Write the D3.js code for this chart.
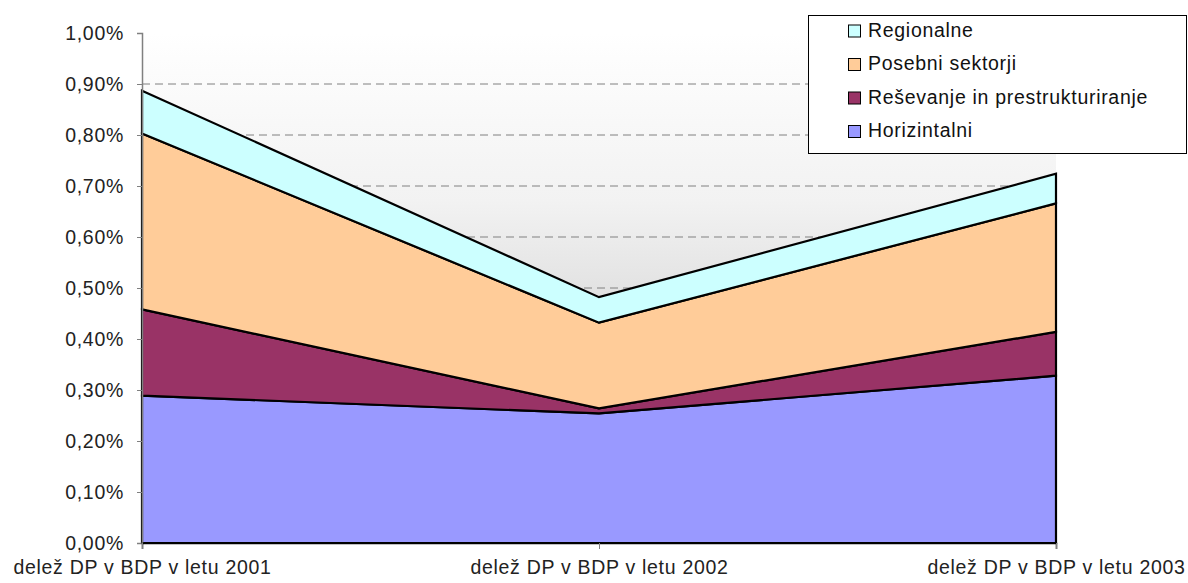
<!DOCTYPE html>
<html>
<head>
<meta charset="utf-8">
<script src="https://cdn.jsdelivr.net/npm/d3@7"></script>
<style>
  body { margin: 0; background: #fff; }
  svg { display: block; font-family: Arial, "Liberation Sans", sans-serif; }
  text { letter-spacing: 0.7px; }
</style>
</head>
<body>
<svg id="chart"></svg>
<script>
// categories and stacked series (share of GDP, %)
const categories = ['delež DP v BDP v letu 2001', 'delež DP v BDP v letu 2002', 'delež DP v BDP v letu 2003'];
const horizintalni = [0.289, 0.254, 0.328];
const resevanje = [0.169, 0.010, 0.086];
const posebni = [0.345, 0.168, 0.252];
const regionalne = [0.084, 0.050, 0.058];
const yTicks = [0, 0.1, 0.2, 0.3, 0.4, 0.5, 0.6, 0.7, 0.8, 0.9, 1.0];

const seriesNames = ['Horizintalni', 'Reševanje in prestrukturiranje', 'Posebni sektorji', 'Regionalne'];
const seriesValues = [horizintalni, resevanje, posebni, regionalne];
const colors = ['#9999ff', '#993366', '#ffcc99', '#ccffff'];

const width = 1188;
const height = 583;
const plotLeft = 142, plotRight = 1056, plotTop = 33, plotBottom = 543;
const fontSize = '19.5px';

const svg = d3.select('#chart').attr('width', width).attr('height', height);

const rows = categories.map((c, i) => {
  const r = { cat: c };
  seriesNames.forEach((s, j) => { r[s] = seriesValues[j][i]; });
  return r;
});
const stacked = d3.stack().keys(seriesNames)(rows);

const x = d3.scalePoint().domain(categories).range([plotLeft, plotRight]).padding(0);
const y = d3.scaleLinear().domain([0, 1]).range([plotBottom, plotTop]);

// plot background gradient
const grad = svg.append('defs').append('linearGradient')
  .attr('id', 'bg').attr('x1', 0).attr('y1', 0).attr('x2', 0).attr('y2', 1);
grad.append('stop').attr('offset', '0%').attr('stop-color', '#ffffff');
grad.append('stop').attr('offset', '33%').attr('stop-color', '#f2f2f2');
grad.append('stop').attr('offset', '50%').attr('stop-color', '#e3e3e3');
grad.append('stop').attr('offset', '100%').attr('stop-color', '#c6c6c6');

svg.append('rect')
  .attr('x', plotLeft).attr('y', plotTop)
  .attr('width', plotRight - plotLeft).attr('height', plotBottom - plotTop)
  .attr('fill', 'url(#bg)');

// gridlines
svg.append('g')
  .selectAll('line')
  .data(yTicks.filter(t => t > 0 && t < 1))
  .enter()
  .append('line')
  .attr('x1', plotLeft).attr('x2', plotRight)
  .attr('y1', d => y(d)).attr('y2', d => y(d))
  .attr('stroke', '#808080')
  .attr('stroke-dasharray', '8,5');

// areas
const area = d3.area()
  .x(d => x(d.data.cat))
  .y0(d => y(d[0]))
  .y1(d => y(d[1]));

svg.append('g')
  .selectAll('path')
  .data(stacked)
  .enter()
  .append('path')
  .attr('d', area)
  .attr('fill', (d, i) => colors[i])
  .attr('stroke', '#000')
  .attr('stroke-width', 2.2)
  .attr('stroke-linejoin', 'miter');

// axes
const yAxis = d3.axisLeft(y)
  .tickValues(yTicks)
  .tickSize(5)
  .tickPadding(13)
  .tickFormat(d => d3.format('.2f')(d).replace('.', ',') + '%');

const gy = svg.append('g')
  .attr('transform', 'translate(' + plotLeft + ',0)')
  .call(yAxis);
gy.select('.domain').attr('stroke', '#808080').attr('stroke-width', 1.5);
gy.selectAll('.tick line').attr('stroke', '#808080');
gy.selectAll('.tick text')
  .attr('fill', '#222')
  .style('font-size', fontSize);

const xAxis = d3.axisBottom(x).tickSize(6).tickPadding(11);
const gx = svg.append('g')
  .attr('transform', 'translate(0,' + plotBottom + ')')
  .call(xAxis);
gx.select('.domain').attr('stroke', '#000').attr('stroke-width', 1.5);
gx.selectAll('.tick line').attr('stroke', '#808080');
gx.selectAll('.tick text')
  .attr('fill', '#222')
  .style('font-size', fontSize);

// legend
const legend = svg.append('g');
legend.append('rect')
  .attr('x', 808.5).attr('y', 15.5)
  .attr('width', 378).attr('height', 138)
  .attr('fill', '#fff')
  .attr('stroke', '#000');

const legendOrder = [3, 2, 1, 0];
const items = legend.selectAll('g.item')
  .data(legendOrder)
  .enter()
  .append('g')
  .attr('class', 'item')
  .attr('transform', (d, i) => 'translate(848,' + (30 + i * 33.5) + ')');

items.append('rect')
  .attr('x', 0.5).attr('y', -5)
  .attr('width', 12).attr('height', 12)
  .attr('fill', d => colors[d])
  .attr('stroke', '#000');

items.append('text')
  .attr('x', 20).attr('y', 0)
  .attr('dy', '0.35em')
  .attr('fill', '#111')
  .style('font-size', fontSize)
  .text(d => seriesNames[d]);
</script>
</body>
</html>
